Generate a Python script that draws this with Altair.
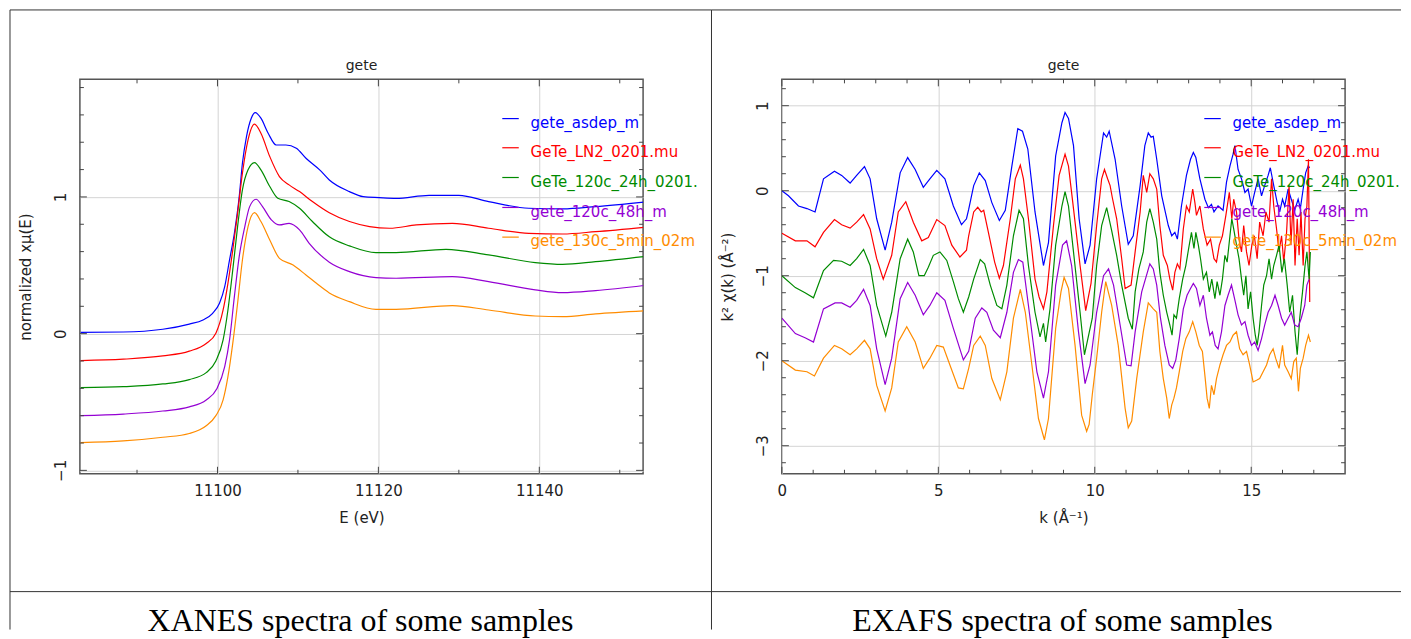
import altair as alt
import pandas as pd

# ---------------- data ----------------
series_names = ["gete_asdep_m", "GeTe_LN2_0201.mu", "GeTe_120c_24h_0201.mu",
                "gete_120c_48h_m", "gete_130c_5min_02m"]
series_colors = ["#0000ff", "#ff0000", "#008b00", "#9400d3", "#ff8c00"]

# XANES (normalized, offset) ----------------------------------------------
xanes_e_blue = [11083.0, 11088.3, 11093.2, 11096.5, 11098.2, 11099.4, 11100.25, 11100.9, 11101.5,
                11102.1, 11102.7, 11103.1, 11103.6, 11104.2, 11104.7, 11105.4, 11106.3, 11107.3,
                11108.5, 11109.8, 11111.0, 11112.7, 11113.9, 11116.4, 11118.1, 11120.1, 11122.2,
                11126.3, 11130.0, 11133.7, 11138.7, 11142.9, 11147.0, 11153.0]
xanes_mu_blue = [0.010, 0.012, 0.032, 0.070, 0.100, 0.149, 0.222, 0.344, 0.539,
                 0.734, 1.000, 1.246, 1.440, 1.576, 1.617, 1.576, 1.466, 1.380,
                 1.380, 1.356, 1.283, 1.198, 1.124, 1.039, 1.002, 0.995, 0.990,
                 1.012, 1.012, 0.966, 0.917, 0.912, 0.929, 0.962]

xanes_e_red = [11083.0, 11088.3, 11093.2, 11096.5, 11098.6, 11099.8, 11100.7, 11101.3, 11101.9,
               11102.5, 11103.1, 11103.8, 11104.6, 11105.4, 11106.5, 11107.7, 11108.9, 11110.2,
               11111.8, 11113.9, 11116.4, 11118.9, 11121.4, 11124.7, 11129.2, 11133.7, 11138.7,
               11142.9, 11147.0, 11153.0]
xanes_mu_red = [-0.197, -0.187, -0.163, -0.128, -0.072, 0.003, 0.173, 0.368, 0.612,
                0.880, 1.173, 1.417, 1.532, 1.466, 1.295, 1.149, 1.088, 1.039,
                0.966, 0.884, 0.820, 0.783, 0.771, 0.795, 0.807, 0.771, 0.734,
                0.729, 0.746, 0.778]

xanes_e_green = [11083.0, 11088.3, 11093.2, 11096.5, 11098.6, 11099.8, 11100.7, 11101.3, 11101.9,
                 11102.5, 11103.1, 11103.8, 11104.6, 11105.4, 11106.5, 11107.5, 11108.9, 11110.2,
                 11111.8, 11113.9, 11116.4, 11119.7, 11122.2, 11128.4, 11133.7, 11139.5, 11142.9,
                 11147.0, 11153.0]
xanes_mu_green = [-0.395, -0.388, -0.368, -0.336, -0.285, -0.200, -0.046, 0.173, 0.466,
                  0.783, 1.051, 1.198, 1.251, 1.198, 1.076, 0.990, 0.966, 0.917,
                  0.820, 0.708, 0.642, 0.593, 0.593, 0.617, 0.576, 0.520, 0.507,
                  0.527, 0.564]

xanes_e_purple = [11083.0, 11088.3, 11093.2, 11096.5, 11098.6, 11099.9, 11100.9, 11101.5, 11102.1,
                  11102.7, 11103.4, 11104.0, 11104.8, 11105.6, 11106.7, 11107.7, 11108.9, 11110.2,
                  11111.4, 11113.9, 11116.4, 11119.7, 11122.2, 11129.2, 11133.7, 11139.5, 11142.9,
                  11147.0, 11153.0]
xanes_mu_purple = [-0.600, -0.588, -0.566, -0.536, -0.485, -0.405, -0.241, -0.046, 0.271,
                   0.563, 0.783, 0.929, 0.983, 0.929, 0.832, 0.795, 0.807, 0.759,
                   0.661, 0.523, 0.454, 0.410, 0.405, 0.417, 0.381, 0.320, 0.300,
                   0.315, 0.352]

xanes_e_orange = [11083.0, 11088.3, 11093.2, 11096.5, 11098.6, 11099.8, 11100.7, 11101.3, 11101.9,
                  11102.5, 11103.1, 11103.8, 11104.6, 11105.4, 11106.5, 11107.7, 11109.4, 11111.0,
                  11112.3, 11113.9, 11116.4, 11119.7, 11122.2, 11129.2, 11133.7, 11139.5, 11142.9,
                  11147.0, 11153.0]
xanes_mu_orange = [-0.797, -0.785, -0.758, -0.730, -0.674, -0.600, -0.485, -0.315, -0.071,
                   0.222, 0.539, 0.783, 0.885, 0.820, 0.685, 0.551, 0.502, 0.429,
                   0.368, 0.298, 0.234, 0.178, 0.178, 0.205, 0.173, 0.129, 0.124,
                   0.144, 0.166]

# EXAFS k^2 chi(k), offset -------------------------------------------------
exafs_k_blue = [0.00, 0.21, 0.53, 0.80, 1.06, 1.33, 1.68, 1.91, 2.18, 2.39, 2.64, 2.82, 3.03, 3.30,
                3.51, 3.78, 4.02, 4.26, 4.52, 4.73, 4.95, 5.21, 5.48, 5.74, 5.90, 5.97, 6.13, 6.31,
                6.50, 6.71, 6.95, 7.14, 7.35, 7.54, 7.69, 7.86, 8.09, 8.36, 8.52, 8.75, 8.95, 9.05,
                9.16, 9.32, 9.50, 9.69, 9.85, 10.06, 10.28, 10.38, 10.46, 10.65, 10.86, 11.07, 11.23,
                11.45, 11.60, 11.71, 11.80, 11.87, 11.98, 12.14, 12.35, 12.46, 12.56, 12.64, 12.77,
                12.93, 13.06, 13.15, 13.23, 13.36, 13.52, 13.63, 13.73, 13.81, 13.94, 14.10, 14.21,
                14.32, 14.42, 14.48, 14.58, 14.69, 14.80, 14.90, 15.01, 15.11, 15.22, 15.33, 15.43,
                15.54, 15.61, 15.72, 15.83, 15.91, 16.00, 16.07, 16.18, 16.28, 16.39, 16.50, 16.57,
                16.66, 16.74, 16.82, 16.87]
exafs_chi_blue = [0.00, -0.06, -0.18, -0.21, -0.25, 0.14, 0.23, 0.18, 0.09, 0.18, 0.285, 0.14, -0.33,
                  -0.70, -0.37, 0.21, 0.39, 0.25, 0.04, 0.14, 0.24, 0.14, -0.18, -0.40, -0.33, -0.22,
                  0.06, 0.21, 0.12, -0.14, -0.35, -0.23, 0.29, 0.73, 0.70, 0.49, -0.25, -0.88, -0.61,
                  0.41, 0.80, 0.92, 0.85, 0.53, -0.33, -0.86, -0.64, 0.14, 0.68, 0.63, 0.70, 0.37,
                  -0.18, -0.63, -0.53, 0.06, 0.53, 0.68, 0.63, 0.64, 0.37, -0.06, -0.41, -0.53, -0.49,
                  -0.57, -0.18, 0.18, 0.37, 0.45, 0.39, 0.14, -0.10, -0.20, -0.16, -0.25, -0.18,
                  -0.23, 0.10, 0.29, 0.43, 0.53, 0.25, 0.14, -0.02, 0.02, -0.18, -0.02, 0.14, -0.06,
                  0.06, 0.18, 0.27, 0.06, -0.14, -0.25, -0.10, -0.18, 0.02, -0.10, -0.23, -0.10,
                  -0.21, 0.02, 0.21, 0.29, 0.27]

exafs_k_red = [0.00, 0.43, 0.80, 1.06, 1.33, 1.68, 1.91, 2.18, 2.39, 2.61, 2.82, 3.03, 3.24, 3.51,
               3.72, 3.96, 4.20, 4.47, 4.68, 4.95, 5.21, 5.43, 5.69, 5.90, 5.97, 6.13, 6.26, 6.37,
               6.45, 6.60, 6.80, 6.95, 7.08, 7.30, 7.46, 7.62, 7.72, 7.88, 8.09, 8.22, 8.36, 8.47,
               8.68, 8.86, 9.05, 9.16, 9.32, 9.53, 9.71, 9.88, 10.06, 10.22, 10.31, 10.41, 10.49,
               10.56, 10.70, 10.86, 10.97, 11.16, 11.29, 11.45, 11.55, 11.66, 11.76, 11.87, 11.98,
               12.08, 12.19, 12.32, 12.40, 12.49, 12.56, 12.64, 12.72, 12.83, 12.93, 13.02, 13.13,
               13.20, 13.25, 13.36, 13.47, 13.59, 13.70, 13.81, 13.89, 13.98, 14.08, 14.19, 14.30,
               14.38, 14.44, 14.53, 14.61, 14.69, 14.76, 14.85, 14.93, 15.02, 15.10, 15.19, 15.27,
               15.38, 15.47, 15.57, 15.65, 15.72, 15.81, 15.89, 15.97, 16.04, 16.13, 16.21, 16.27,
               16.34, 16.40, 16.47, 16.53, 16.59, 16.66, 16.72, 16.78, 16.83, 16.87]
exafs_chi_red = [-0.50, -0.59, -0.59, -0.66, -0.49, -0.34, -0.40, -0.44, -0.37, -0.28, -0.45, -0.80,
                 -1.04, -0.76, -0.25, -0.13, -0.37, -0.59, -0.55, -0.34, -0.41, -0.64, -0.78, -0.70,
                 -0.53, -0.25, -0.195, -0.25, -0.23, -0.49, -0.84, -1.03, -0.88, -0.33, 0.14, 0.30,
                 0.14, -0.33, -1.04, -1.25, -1.39, -1.19, -0.41, 0.18, 0.43, 0.29, -0.21, -0.88,
                 -1.41, -1.09, -0.41, 0.14, 0.25, 0.14, 0.06, -0.08, -0.33, -0.80, -1.15, -1.11,
                 -0.72, -0.25, 0.18, -0.02, 0.20, 0.14, 0.02, -0.41, -0.76, -0.88, -1.04, -1.17,
                 -0.96, -0.86, -0.92, -0.45, -0.18, -0.25, 0.02, -0.14, -0.29, -0.18, -0.45, -0.64,
                 -0.57, -0.80, -0.84, -0.64, -0.53, -0.29, -0.02, -0.33, -0.10, -0.25, -0.57, -0.72,
                 -0.41, -0.72, -0.88, -0.64, -0.53, -0.80, -0.37, -0.53, -0.25, -0.37, 0.14, -0.18,
                 -0.45, -0.72, -0.53, -0.84, -0.49, 0.06, -0.64, -0.10, -0.88, -0.33, -0.76, -0.25,
                 -0.88, -0.33, -0.18, 0.37, -1.31]

exafs_k_green = [0.00, 0.43, 0.74, 1.01, 1.33, 1.65, 1.91, 2.18, 2.39, 2.61, 2.82, 3.03, 3.32, 3.51,
                 3.78, 4.02, 4.20, 4.38, 4.55, 4.68, 4.84, 5.05, 5.27, 5.48, 5.64, 5.80, 5.97, 6.13,
                 6.34, 6.48, 6.66, 6.87, 7.03, 7.19, 7.40, 7.58, 7.72, 7.88, 8.09, 8.25, 8.36, 8.43,
                 8.57, 8.75, 8.95, 9.05, 9.16, 9.32, 9.53, 9.67, 9.78, 9.92, 10.06, 10.22, 10.38,
                 10.54, 10.70, 10.86, 11.07, 11.20, 11.29, 11.41, 11.55, 11.66, 11.76, 11.87, 11.98,
                 12.08, 12.19, 12.30, 12.40, 12.47, 12.53, 12.61, 12.70, 12.81, 12.91, 13.00, 13.09,
                 13.17, 13.23, 13.31, 13.38, 13.47, 13.57, 13.66, 13.74, 13.84, 13.91, 14.00, 14.08,
                 14.16, 14.23, 14.32, 14.38, 14.44, 14.53, 14.61, 14.69, 14.76, 14.83, 14.90, 14.98,
                 15.06, 15.13, 15.19, 15.25, 15.33, 15.40, 15.49, 15.57, 15.65, 15.72, 15.81, 15.89,
                 15.98, 16.06, 16.15, 16.23, 16.32, 16.40, 16.47, 16.55, 16.64, 16.72, 16.78, 16.85,
                 16.89]
exafs_chi_green = [-1.00, -1.14, -1.20, -1.26, -0.94, -0.82, -0.83, -0.88, -0.80, -0.69, -0.88, -1.35,
                   -1.71, -1.43, -0.80, -0.57, -0.72, -1.00, -1.00, -0.90, -0.76, -0.72, -0.82, -1.07,
                   -1.27, -1.43, -1.25, -1.04, -0.81, -0.86, -1.11, -1.35, -1.39, -1.11, -0.53, -0.23,
                   -0.33, -0.88, -1.43, -1.72, -1.56, -1.78, -1.39, -0.64, -0.18, -0.01, -0.18, -0.72,
                   -1.43, -1.93, -1.74, -1.50, -0.88, -0.41, -0.20, -0.47, -0.76, -1.11, -1.50, -1.63,
                   -1.19, -0.92, -0.72, -0.37, -0.21, -0.37, -0.57, -0.96, -1.23, -1.43, -1.58, -1.70,
                   -1.46, -1.50, -1.27, -1.04, -0.88, -0.68, -0.49, -0.68, -0.49, -0.64, -0.80, -1.04,
                   -0.96, -1.19, -1.04, -1.27, -1.07, -1.23, -1.04, -0.76, -0.84, -0.53, -0.33, -0.45,
                   -0.64, -0.80, -1.04, -1.23, -1.00, -1.39, -1.19, -1.50, -1.70, -1.82, -1.66, -1.35,
                   -1.11, -1.00, -0.80, -1.04, -0.88, -0.76, -0.64, -0.96, -0.80, -1.11, -1.43, -1.23,
                   -1.66, -1.93, -1.50, -1.19, -0.88, -0.72, -1.04, -0.72]

exafs_k_purple = [0.00, 0.43, 0.74, 1.01, 1.33, 1.70, 1.91, 2.18, 2.39, 2.61, 2.82, 3.03, 3.30, 3.51,
                  3.78, 4.02, 4.26, 4.52, 4.73, 4.95, 5.21, 5.48, 5.80, 5.97, 6.18, 6.39, 6.55, 6.76,
                  6.98, 7.19, 7.40, 7.56, 7.70, 7.88, 8.15, 8.36, 8.52, 8.75, 8.97, 9.10, 9.26, 9.48,
                  9.69, 9.85, 10.06, 10.28, 10.44, 10.60, 10.81, 11.02, 11.16, 11.29, 11.50, 11.76,
                  11.87, 11.98, 12.10, 12.24, 12.38, 12.49, 12.59, 12.70, 12.83, 12.95, 13.06, 13.15,
                  13.25, 13.36, 13.47, 13.57, 13.68, 13.76, 13.85, 13.94, 14.05, 14.16, 14.26, 14.37,
                  14.48, 14.58, 14.69, 14.80, 14.90, 15.01, 15.11, 15.22, 15.33, 15.43, 15.54, 15.65,
                  15.76, 15.86, 15.97, 16.07, 16.18, 16.28, 16.39, 16.50, 16.60, 16.71, 16.78, 16.85]
exafs_chi_purple = [-1.50, -1.68, -1.73, -1.78, -1.39, -1.32, -1.32, -1.37, -1.29, -1.16, -1.35, -1.86,
                    -2.28, -1.97, -1.27, -1.08, -1.23, -1.46, -1.35, -1.20, -1.29, -1.62, -1.99, -1.89,
                    -1.50, -1.38, -1.43, -1.64, -1.73, -1.43, -0.96, -0.81, -0.84, -1.35, -2.13, -2.44,
                    -2.13, -1.11, -0.64, -0.59, -0.88, -1.66, -2.27, -2.05, -1.43, -1.00, -0.92, -1.11,
                    -1.58, -2.05, -2.06, -1.66, -1.19, -0.86, -0.92, -1.11, -1.50, -1.82, -2.05, -2.09,
                    -1.99, -1.74, -1.39, -1.23, -1.15, -1.09, -1.15, -1.35, -1.23, -1.50, -1.70, -1.66,
                    -1.82, -1.86, -1.66, -1.35, -1.23, -1.11, -1.29, -1.46, -1.58, -1.54, -1.70, -1.82,
                    -1.78, -1.88, -1.74, -1.58, -1.43, -1.35, -1.23, -1.35, -1.50, -1.58, -1.50, -1.43,
                    -1.58, -1.60, -1.50, -1.35, -1.11, -1.04]

exafs_k_orange = [0.00, 0.43, 0.80, 1.04, 1.33, 1.68, 1.91, 2.18, 2.39, 2.64, 2.82, 3.03, 3.30, 3.51,
                  3.72, 3.99, 4.26, 4.52, 4.73, 4.95, 5.16, 5.37, 5.64, 5.80, 5.97, 6.13, 6.34, 6.50,
                  6.71, 6.98, 7.19, 7.40, 7.62, 7.78, 7.99, 8.20, 8.39, 8.52, 8.75, 8.92, 9.02, 9.16,
                  9.37, 9.58, 9.74, 9.82, 9.92, 10.06, 10.22, 10.35, 10.54, 10.75, 10.97, 11.07, 11.18,
                  11.34, 11.55, 11.71, 11.87, 11.98, 12.08, 12.19, 12.30, 12.38, 12.46, 12.53, 12.61,
                  12.70, 12.81, 12.91, 13.02, 13.13, 13.23, 13.34, 13.44, 13.53, 13.59, 13.66, 13.73,
                  13.81, 13.89, 14.00, 14.10, 14.21, 14.32, 14.42, 14.53, 14.63, 14.74, 14.85, 14.95,
                  15.06, 15.17, 15.27, 15.38, 15.49, 15.59, 15.70, 15.78, 15.89, 16.00, 16.07, 16.18,
                  16.28, 16.36, 16.44, 16.51, 16.57, 16.66, 16.74, 16.83, 16.89]
exafs_chi_orange = [-2.00, -2.11, -2.13, -2.18, -1.97, -1.82, -1.86, -1.93, -1.86, -1.76, -1.86, -2.29,
                    -2.59, -2.32, -1.78, -1.60, -1.78, -2.09, -1.97, -1.82, -1.84, -2.05, -2.32, -2.33,
                    -2.09, -1.82, -1.71, -1.82, -2.21, -2.46, -2.13, -1.50, -1.16, -1.43, -2.05, -2.68,
                    -2.93, -2.68, -1.62, -1.19, -1.02, -1.15, -1.82, -2.64, -2.83, -2.75, -2.40, -1.97,
                    -1.43, -1.07, -1.35, -1.82, -2.56, -2.79, -2.71, -2.21, -1.66, -1.32, -1.39, -1.43,
                    -1.89, -2.21, -2.44, -2.68, -2.52, -2.44, -2.32, -2.13, -1.89, -1.74, -1.66, -1.54,
                    -1.66, -1.82, -1.89, -2.21, -2.44, -2.56, -2.29, -2.40, -2.21, -2.05, -1.93, -1.82,
                    -1.78, -1.70, -1.66, -1.86, -1.93, -1.89, -2.05, -2.25, -2.23, -2.21, -2.13, -2.05,
                    -1.93, -1.86, -1.97, -2.09, -1.82, -2.05, -2.13, -2.21, -2.01, -1.97, -2.36, -2.09,
                    -1.97, -1.82, -1.70, -1.78]

# tick values
xanes_xticks_major = [11100, 11120, 11140]
xanes_xticks_minor = [11090, 11110, 11130, 11150]
xanes_yticks_major = [-1, 0, 1]
xanes_yticks_minor = [-0.8, -0.6, -0.4, -0.2, 0.2, 0.4, 0.6, 0.8, 1.2, 1.4, 1.6, 1.8]
exafs_xticks_major = [0, 5, 10, 15]
exafs_xticks_minor = [1, 2, 3, 4, 6, 7, 8, 9, 11, 12, 13, 14, 16, 17]
exafs_yticks_major = [-3, -2, -1, 0, 1]
exafs_yticks_minor = [-3.2, -2.8, -2.6, -2.4, -2.2, -1.8, -1.6, -1.4, -1.2, -0.8, -0.6, -0.4,
                      -0.2, 0.2, 0.4, 0.6, 0.8, 1.2]

# ---------------- helpers ----------------
W, H = 564, 395
FONT = "DejaVu Sans"
TXT = "#222222"
TICK = "#444444"
BORDER = "#333333"


def long_df(xs, ys):
    rows = []
    for name, xv, yv in zip(series_names, xs, ys):
        for i, (a, b) in enumerate(zip(xv, yv)):
            rows.append({"series": name, "i": i, "x": a, "y": b})
    return pd.DataFrame(rows)


one = pd.DataFrame({"d": [0]})


def panel(df, xdom, ydom, xmaj, xmin_, ymaj, ymin_, xtitle, ytitle, interp,
          left_ext, right_ext, legend_limit, caption):
    xs = alt.Scale(domain=xdom, nice=False, zero=False)
    ys = alt.Scale(domain=ydom, nice=False, zero=False)
    xaxis = alt.Axis(
        values=xmaj, format="d", grid=True, gridColor="#d4d4d4", gridWidth=1,
        ticks=False, domain=False, labelFont=FONT, labelFontSize=15, labelFlush=False,
        labelColor=TXT, labelPadding=10, title=xtitle, titleFont=FONT,
        titleFontSize=15, titleFontWeight="normal", titleColor=TXT, titlePadding=12)
    yaxis = alt.Axis(
        values=ymaj, format="d", grid=True, gridColor="#d4d4d4", gridWidth=1, ticks=False,
        domain=False, labelFont=FONT, labelFontSize=15, labelColor=TXT, labelFlush=False,
        labelAngle=270, labelAlign="center", labelBaseline="bottom", labelPadding=11,
        title=ytitle, titleFont=FONT, titleFontSize=15, titleFontWeight="normal",
        titleColor=TXT, titlePadding=20)

    # axes (labels, grid, titles) carried by an invisible layer
    grid_df = pd.DataFrame({"gx": [xmaj[0]], "gy": [ymaj[0]]})
    layers = []
    layers.append(
        alt.Chart(grid_df).mark_point(opacity=0).encode(
            x=alt.X("gx:Q", scale=xs, axis=xaxis),
            y=alt.Y("gy:Q", scale=ys, axis=yaxis),
        )
    )
    layers.append(
        alt.Chart(df).mark_line(strokeWidth=1.2, clip=True, interpolate=interp).encode(
            x=alt.X("x:Q", scale=xs, axis=xaxis),
            y=alt.Y("y:Q", scale=ys, axis=yaxis),
            color=alt.Color("series:N", scale=alt.Scale(domain=series_names, range=series_colors),
                            legend=None),
            order=alt.Order("i:Q"),
        )
    )
    # inward ticks on all four sides
    for vals, size in ((xmaj, 7), (xmin_, 4)):
        d = pd.DataFrame({"v": vals})
        for y0, y1 in ((H, H - size), (0, size)):
            layers.append(alt.Chart(d).mark_rule(color=TICK, strokeWidth=1).encode(
                x=alt.X("v:Q", scale=xs, axis=xaxis), y=alt.value(y0), y2=alt.value(y1)))
    for vals, size in ((ymaj, 7), (ymin_, 4)):
        d = pd.DataFrame({"v": vals})
        for x0, x1 in ((0, size), (W, W - size)):
            layers.append(alt.Chart(d).mark_rule(color=TICK, strokeWidth=1).encode(
                y=alt.Y("v:Q", scale=ys, axis=yaxis), x=alt.value(x0), x2=alt.value(x1)))
    # plot title
    layers.append(alt.Chart(pd.DataFrame({"t": ["gete"]})).mark_text(
        font=FONT, fontSize=14, color=TXT, align="center", baseline="alphabetic").encode(
        text="t:N", x=alt.value(W / 2), y=alt.value(-9)))
    # legend
    row_y = [39.3, 68.5, 98.3, 128.3, 158.0]
    for name, col, yy in zip(series_names, series_colors, row_y):
        layers.append(alt.Chart(one).mark_rule(color=col, strokeWidth=1.2).encode(
            x=alt.value(423), x2=alt.value(439.5), y=alt.value(yy)))
        layers.append(alt.Chart(pd.DataFrame({"t": [name]})).mark_text(
            font=FONT, fontSize=15, color=col, align="left", baseline="middle",
            limit=legend_limit, ellipsis="\u200b").encode(
            text="t:N", x=alt.value(451.3), y=alt.value(yy + 4.3)))
    # table lines
    layers.append(alt.Chart(one).mark_rule(color=BORDER, strokeWidth=1).encode(
        x=alt.value(left_ext), x2=alt.value(right_ext), y=alt.value(-69.5)))
    layers.append(alt.Chart(one).mark_rule(color=BORDER, strokeWidth=1).encode(
        x=alt.value(left_ext), x2=alt.value(right_ext), y=alt.value(513)))
    layers.append(alt.Chart(one).mark_rule(color=BORDER, strokeWidth=1).encode(
        x=alt.value(left_ext), y=alt.value(-69.5), y2=alt.value(551)))
    # caption
    layers.append(alt.Chart(pd.DataFrame({"t": [caption]})).mark_text(
        font="Liberation Serif", fontSize=32, color="#000000", align="center",
        baseline="alphabetic").encode(text="t:N", x=alt.value(281), y=alt.value(552)))
    return alt.layer(*layers).properties(width=W, height=H)


xanes_df = long_df([xanes_e_blue, xanes_e_red, xanes_e_green, xanes_e_purple, xanes_e_orange],
                   [xanes_mu_blue, xanes_mu_red, xanes_mu_green, xanes_mu_purple, xanes_mu_orange])
exafs_df = long_df([exafs_k_blue, exafs_k_red, exafs_k_green, exafs_k_purple, exafs_k_orange],
                   [exafs_chi_blue, exafs_chi_red, exafs_chi_green, exafs_chi_purple, exafs_chi_orange])

left = panel(xanes_df, [11082.9, 11152.9], [-1.025, 1.86], xanes_xticks_major, xanes_xticks_minor,
             xanes_yticks_major, xanes_yticks_minor, "E (eV)", "normalized xμ(E)", "monotone",
             -70, 632.5, 181, "XANES spectra of some samples")
right = panel(exafs_df, [0, 18], [-3.33, 1.31], exafs_xticks_major, exafs_xticks_minor,
              exafs_yticks_major, exafs_yticks_minor, "k (Å⁻¹)", "k² χ(k) (Å⁻²)", "linear",
              -70.5, 620, 169, "EXAFS spectra of some samples")

chart = alt.hconcat(left, right, spacing=139, bounds="flush").properties(
    padding={"left": 0, "top": 0, "right": 0, "bottom": 0}
).configure_view(stroke="#555555", strokeWidth=1.5)

chart.save("out.html", embed_options={"renderer": "svg", "actions": False})
